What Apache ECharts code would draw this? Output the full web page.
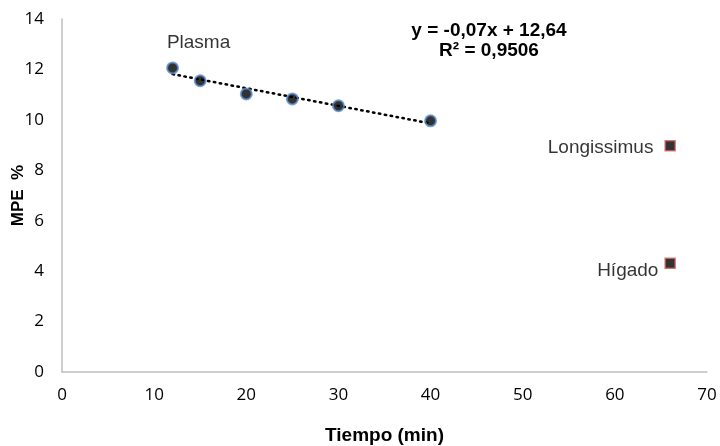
<!DOCTYPE html>
<html>
<head>
<meta charset="utf-8">
<script src="https://cdn.jsdelivr.net/npm/echarts@6/dist/echarts.min.js"></script>
<style>
  html, body { margin: 0; padding: 0; background: #fff; }
  #chart { width: 720px; height: 446px; }
</style>
</head>
<body>
<div id="chart"></div>
<script>
// Plasma MPE over time
const plasmaTime = [12, 15, 20, 25, 30, 40];
const plasmaMPE = [12.06, 11.55, 11.03, 10.83, 10.56, 9.96];

// Tissue samples taken at the end
const tissueNames = ['Longissimus', 'Hígado'];
const tissueTime = [66, 66];
const tissueMPE = [8.97, 4.31];

const xTicks = { min: 0, max: 70, interval: 10 };
const yTicks = { min: 0, max: 14, interval: 2 };

// Least-squares fit for the plasma trend line
function linearFit(xs, ys) {
  const n = xs.length;
  const mx = xs.reduce((a, b) => a + b, 0) / n;
  const my = ys.reduce((a, b) => a + b, 0) / n;
  let sxy = 0, sxx = 0;
  for (let i = 0; i < n; i++) {
    sxy += (xs[i] - mx) * (ys[i] - my);
    sxx += (xs[i] - mx) ** 2;
  }
  const slope = sxy / sxx;
  return { slope, intercept: my - slope * mx };
}
const fit = linearFit(plasmaTime, plasmaMPE);
const xFirst = plasmaTime[0], xLast = plasmaTime[plasmaTime.length - 1];
const trend = [
  [xFirst, fit.intercept + fit.slope * xFirst],
  [xLast, fit.intercept + fit.slope * xLast]
];

const eqLine1 = 'y = -0,07x + 12,64';
const eqLine2 = 'R² = 0,9506';

const chart = echarts.init(document.getElementById('chart'));
const tickFont = { color: '#000', fontFamily: 'Open Sans', fontSize: 17 };
const nameFont = { color: '#000', fontFamily: 'Liberation Sans', fontWeight: 'bold', fontSize: 19 };
const pointFont = { color: '#000', fontFamily: 'Liberation Sans', fontSize: 19 };

chart.setOption({
  animation: false,
  grid: { left: 62, right: 13, top: 19, bottom: 74, containLabel: false, outerBoundsMode: 'none' },
  xAxis: {
    type: 'value',
    min: xTicks.min, max: xTicks.max, interval: xTicks.interval,
    name: 'Tiempo (min)',
    nameLocation: 'middle',
    nameGap: 54,
    nameMoveOverlap: false,
    nameTextStyle: nameFont,
    axisLine: { lineStyle: { color: '#bfbfbf', width: 1.5 } },
    axisTick: { show: false },
    splitLine: { show: false },
    axisLabel: Object.assign({ margin: 15 }, tickFont)
  },
  yAxis: {
    type: 'value',
    min: yTicks.min, max: yTicks.max, interval: yTicks.interval,
    name: 'MPE  %',
    nameLocation: 'middle',
    nameGap: 35,
    nameMoveOverlap: false,
    nameTextStyle: Object.assign({}, nameFont, { fontSize: 17 }),
    axisLine: { show: true, lineStyle: { color: '#bfbfbf', width: 1.5 } },
    axisTick: { show: false },
    splitLine: { show: false },
    axisLabel: Object.assign({ margin: 18 }, tickFont)
  },
  series: [
    {
      type: 'line',
      data: trend,
      symbol: 'none',
      lineStyle: { color: '#000', width: 2.5, type: [1.5, 4.5], cap: 'round' },
      z: 1
    },
    {
      type: 'scatter',
      data: plasmaTime.map((t, i) => [t, plasmaMPE[i]]),
      symbol: 'circle',
      symbolSize: 11,
      itemStyle: { color: '#000', borderColor: '#5a8fd0', borderWidth: 2 },
      label: Object.assign({
        show: true,
        formatter: p => (p.dataIndex === 0 ? 'Plasma' : ''),
        position: 'inside',
        offset: [26, -25]
      }, pointFont),
      z: 3
    },
    {
      type: 'scatter',
      data: tissueTime.map((t, i) => ({
        value: [t, tissueMPE[i]],
        name: tissueNames[i],
        label: i === 1 ? { offset: [0, 7], distance: 6 } : { offset: [0, 2] }
      })),
      symbol: 'rect',
      symbolSize: 10,
      itemStyle: { color: '#000', borderColor: '#d0605c', borderWidth: 1.5 },
      label: Object.assign({
        show: true,
        formatter: p => p.name,
        position: 'left',
        distance: 11
      }, pointFont),
      z: 3
    }
  ],
  graphic: [
    {
      type: 'text',
      x: 489, y: 21,
      style: {
        text: eqLine1 + '\n' + eqLine2,
        x: 0, y: 0,
        align: 'center',
        textAlign: 'center',
        fill: '#000',
        font: 'bold 19px "Liberation Sans"',
        lineHeight: 20
      }
    }
  ]
});
</script>
</body>
</html>
